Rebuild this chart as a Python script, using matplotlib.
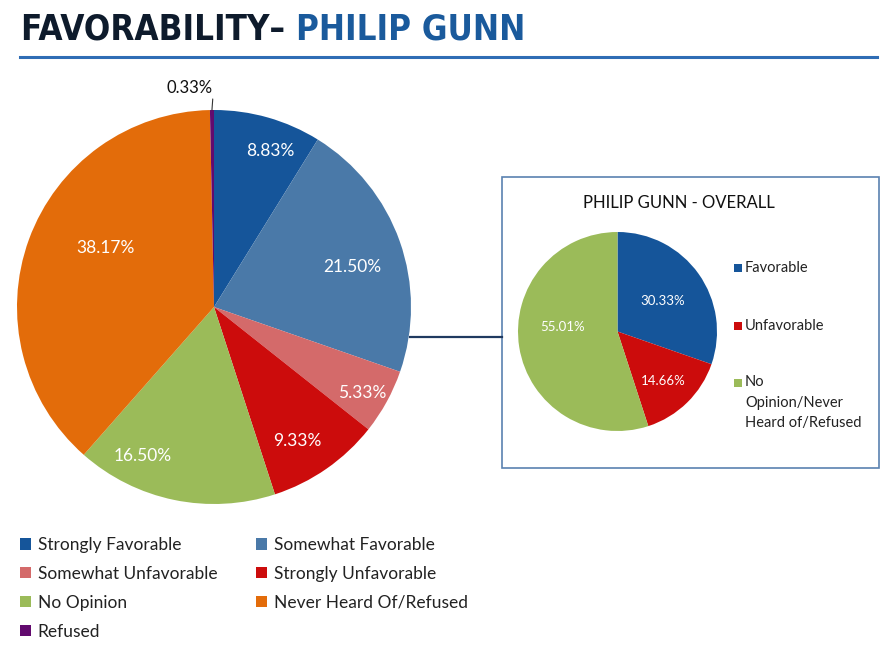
import numpy as np
import matplotlib
matplotlib.use("Agg")
import matplotlib.pyplot as plt
from matplotlib.patches import Patch, Rectangle
from matplotlib.lines import Line2D

plt.rcParams['font.family'] = ['Lato', 'DejaVu Sans']

# --- data ---
categories = ["Strongly Favorable", "Somewhat Favorable", "Somewhat Unfavorable",
              "Strongly Unfavorable", "No Opinion", "Never Heard Of/Refused", "Refused"]
values = [8.83, 21.50, 5.33, 9.33, 16.50, 38.17, 0.33]
colors = ["#15559a", "#4a79a8", "#d46a6a", "#cc0c0c", "#9bbb59", "#e36c0a", "#620a6e"]

overall_cats = ["Favorable", "Unfavorable", "No\nOpinion/Never\nHeard of/Refused"]
overall_vals = [30.33, 14.66, 55.01]
overall_colors = ["#15559a", "#cc0c0c", "#9bbb59"]

W, H = 887, 650
def fx(x): return x / W
def fy(y): return 1 - y / H

fig = plt.figure(figsize=(W / 100, H / 100), dpi=100)
fig.patch.set_facecolor("white")

# --- title ---
tkw = dict(fontsize=25, fontweight="bold", fontstretch="condensed", family="DejaVu Sans")
t1 = fig.text(fx(21), fy(39), "FAVORABILITY\u2013 ", color="#0e1b2c", **tkw)
r = fig.canvas.get_renderer()
bb = t1.get_window_extent(r)
fig.text(bb.x1 / W, fy(39), "PHILIP GUNN", color="#1a5a9c", **tkw)
fig.add_artist(Line2D([fx(20), fx(877)], [fy(57), fy(57)], color="#2f6db5", lw=2.2))


def label_pos(w, rad, nudge):
    ang = np.deg2rad((w.theta1 + w.theta2) / 2 - nudge)
    return rad * np.cos(ang), rad * np.sin(ang)

# --- main pie ---
cx, cy, R = 214, 307, 197
ax = fig.add_axes([fx(cx - R), fy(cy + R), 2 * R / W, 2 * R / H])
wedges, _ = ax.pie(values, colors=colors, startangle=90, counterclock=False,
                   radius=1, wedgeprops=dict(linewidth=0))
ax.set_xlim(-1, 1); ax.set_ylim(-1, 1); ax.set_aspect("equal"); ax.axis("off")

lab_r = [0.84, 0.73, 0.87, 0.80, 0.84, 0.63]
lab_nudge = [4, 3.5, 1.5, 3, 14, 8.5]
for w, v, rr, nd in zip(wedges[:6], values[:6], lab_r, lab_nudge):
    x, y = label_pos(w, rr, nd)
    ax.text(x, y, f"{v:.2f}%", color="white", fontsize=12.5, ha="center", va="center")

# tiny slice label with leader line
w = wedges[6]
mid = np.deg2rad((w.theta1 + w.theta2) / 2)
ax.annotate(f"{values[6]:.2f}%", xy=(np.cos(mid), np.sin(mid)),
            xytext=(np.cos(mid) + 0.005, 1.07), ha="right", va="bottom",
            fontsize=12, color="#111111",
            arrowprops=dict(arrowstyle="-", color="#333333", lw=0.8,
                            relpos=(1, 0), shrinkA=0, shrinkB=0))

# --- legend ---
order = [0, 2, 4, 6, 1, 3, 5]
handles = [Patch(facecolor=colors[i], edgecolor="none", label=categories[i]) for i in order]
fig.legend(handles=handles, loc="upper left", bbox_to_anchor=(fx(20), fy(537)),
           ncol=2, frameon=False, fontsize=12.5, handlelength=0.62, handleheight=0.62,
           handletextpad=0.4, labelspacing=0.74, columnspacing=2.25, borderpad=0,
           borderaxespad=0, labelcolor="#222222")

# --- connector and inset box ---
fig.add_artist(Line2D([fx(410), fx(502)], [fy(337), fy(337)], color="#1f3a60", lw=1.6))
fig.add_artist(Rectangle((fx(502), fy(468)), fx(879) - fx(502), fy(177) - fy(468),
                         transform=fig.transFigure, facecolor="white",
                         edgecolor="#5a82b0", lw=1.2, zorder=-1))
fig.text(fx(679), fy(203), "PHILIP GUNN - OVERALL", fontsize=12, color="#111111",
         ha="center", va="center")

icx, icy, iR = 617.5, 331.5, 99.5
ax2 = fig.add_axes([fx(icx - iR), fy(icy + iR), 2 * iR / W, 2 * iR / H])
w2, _ = ax2.pie(overall_vals, colors=overall_colors, startangle=90, counterclock=False,
                radius=1, wedgeprops=dict(linewidth=0))
ax2.set_xlim(-1, 1); ax2.set_ylim(-1, 1); ax2.set_aspect("equal"); ax2.axis("off")
ax2.patch.set_visible(False)
in_r = [0.55, 0.68, 0.55]
in_nudge = [2, 2, 14]
for w, v, rr, nd in zip(w2, overall_vals, in_r, in_nudge):
    x, y = label_pos(w, rr, nd)
    ax2.text(x, y, f"{v:.2f}%", color="white", fontsize=9.5, ha="center", va="center")

# inset legend
for i, (lab, c) in enumerate(zip(overall_cats, overall_colors)):
    yy = 268 + i * 57.5
    fig.add_artist(Rectangle((fx(734), fy(yy + 4)), 8 / W, 8 / H,
                             transform=fig.transFigure, facecolor=c, edgecolor="none"))
    multi = "\n" in lab
    fig.text(fx(745), fy(yy - 8) if multi else fy(yy), lab, fontsize=10.5, color="#222222",
             ha="left", va="top" if multi else "center", linespacing=1.6)

fig.savefig("out.png", dpi=100)
